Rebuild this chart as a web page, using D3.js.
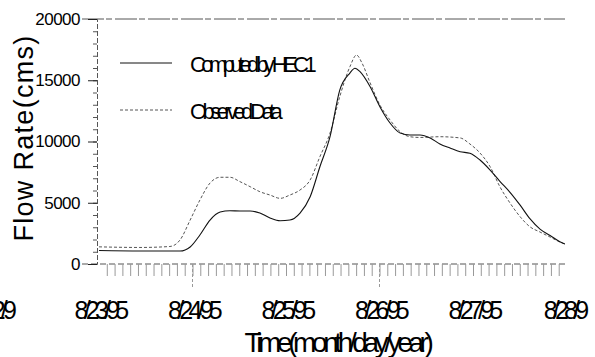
<!DOCTYPE html>
<html>
<head>
<meta charset="utf-8">
<script src="https://cdn.jsdelivr.net/npm/d3@7"></script>
<style>
  body { margin: 0; background: #fff; }
  text { font-family: "Liberation Sans", Arial, sans-serif; fill: #000; }
</style>
</head>
<body>
<div id="content"></div>
<script>
// Set up canvas
var width = 595, height = 357;

// hours after 8/23/95 00:00
var computedHours = [0, 10.5, 20.8, 23.4, 25.9, 28.5, 31.1, 33.6, 36.2, 38.8, 41.3, 43.9, 46.5, 49.0, 51.6, 54.2, 56.7, 59.3, 61.8, 64.4, 65.7, 67.0, 69.6, 72.1, 74.7, 77.3, 79.8, 82.4, 85.0, 87.5, 90.1, 92.7, 95.2, 97.8, 100.4, 102.9, 105.5, 108.1, 110.6, 113.2, 115.8, 118.3, 119.6];
var computedFlow = [1100, 1060, 1060, 1390, 2370, 3590, 4240, 4350, 4330, 4330, 4160, 3760, 3530, 3590, 4160, 5490, 7940, 10390, 14200, 15590, 15980, 15700, 14470, 12840, 11510, 10690, 10530, 10530, 10290, 9800, 9470, 9170, 9040, 8490, 7670, 6750, 5850, 4800, 3700, 2850, 2330, 1820, 1630];

var observedHours = [0, 10.5, 18.2, 20.8, 23.4, 25.9, 28.5, 31.1, 33.6, 36.2, 38.8, 41.3, 43.9, 46.5, 49.0, 51.6, 54.2, 56.7, 59.3, 61.8, 64.4, 66.1, 67.5, 69.6, 72.1, 74.7, 77.3, 79.8, 82.4, 87.5, 92.7, 95.2, 97.8, 100.4, 102.9, 105.5, 108.1, 110.6, 113.2, 115.8, 118.3, 119.6];
var observedFlow = [1400, 1350, 1430, 1960, 3590, 5220, 6610, 7080, 7080, 6720, 6310, 5900, 5630, 5360, 5630, 6040, 6860, 8760, 10690, 13660, 16100, 17060, 16410, 14780, 12980, 11760, 10800, 10390, 10330, 10390, 10290, 9800, 9060, 7940, 6310, 4980, 3860, 3040, 2610, 2200, 1800, 1630];

var dayTicks = [22, 23, 24, 25, 26, 27, 28];
var dayLabels = ["8/22/9", "8/23/95", "8/24/95", "8/25/95", "8/26/95", "8/27/95", "8/28/9"];
var longTickDays = [24, 26];
var yTicks = [0, 5000, 10000, 15000, 20000];
var yLabels = ["0", "5000", "10000", "15000", "20000"];
var legendNames = ["Computed by HEC1", "Observed Data"];

var svg = d3.select("#content")
    .append("svg")
    .attr("width", width)
    .attr("height", height);

function day(d) { return new Date(1995, 7, d); }
var start = day(23);
function at(h) { return new Date(start.getTime() + h * 3600e3); }

var xscale = d3.scaleTime()
    .domain([day(22), day(28)])
    .range([5.5, 566.5]);

var yscale = d3.scaleLinear()
    .domain([0, 20000])
    .range([264, 19]);

var axisX = 97;

// frame lines top and bottom
svg.append("line")
    .attr("x1", 82).attr("x2", 565)
    .attr("y1", yscale(20000)).attr("y2", yscale(20000))
    .attr("stroke", "#555").attr("stroke-dasharray", "22,2,6,3");
svg.append("line")
    .attr("x1", 82).attr("x2", 567)
    .attr("y1", yscale(0)).attr("y2", yscale(0))
    .attr("stroke", "#555").attr("stroke-dasharray", "6,3");

// x minor ticks every 2 hours
var x_minor = d3.axisBottom(xscale)
    .tickValues(d3.timeHour.every(2).range(at(2), day(28)))
    .tickSize(12)
    .tickFormat("");
var gxm = svg.append("g")
    .attr("transform", "translate(0," + yscale(0) + ")")
    .call(x_minor);
gxm.select(".domain").remove();
gxm.selectAll("line").attr("stroke", "#999");

// long day ticks
svg.selectAll(".longtick")
    .data(longTickDays)
    .enter().append("line")
    .attr("class", "longtick")
    .attr("x1", function(d) { return xscale(day(d)); })
    .attr("x2", function(d) { return xscale(day(d)); })
    .attr("y1", yscale(0)).attr("y2", yscale(0) + 23)
    .attr("stroke", "#999").attr("stroke-dasharray", "3,2");

// day labels
var x_axis = d3.axisBottom(xscale)
    .tickValues(dayTicks.map(day))
    .tickSize(0)
    .tickPadding(0)
    .tickFormat(function(d, i) { return dayLabels[i]; });
var gx = svg.append("g")
    .attr("transform", "translate(0,301)")
    .call(x_axis);
gx.select(".domain").remove();
gx.selectAll("text")
    .attr("dy", "0.71em")
    .style("font-size", "25px")
    .style("letter-spacing", "-4.8px")
    .attr("font-family", null);
gx.selectAll("text").filter(function(d, i) { return i == 0; })
    .attr("text-anchor", "end").attr("x", 6);
gx.selectAll("text").filter(function(d, i) { return i == dayLabels.length - 1; })
    .attr("x", -3);

// y axis
var y_minor = d3.axisLeft(yscale)
    .tickValues(d3.range(0, 20001, 1000))
    .tickSize(4)
    .tickFormat("");
var gym = svg.append("g")
    .attr("transform", "translate(" + axisX + ",0)")
    .call(y_minor);
gym.select(".domain").remove();
gym.selectAll("line").attr("stroke", "#555");

var y_axis = d3.axisLeft(yscale)
    .tickValues(yTicks)
    .tickSize(9)
    .tickPadding(8)
    .tickFormat(function(d, i) { return yLabels[i]; });
var gy = svg.append("g")
    .attr("transform", "translate(" + axisX + ",0)")
    .call(y_axis);
gy.select(".domain").attr("stroke", "#555").attr("stroke-dasharray", "5,2");
gy.selectAll("line").attr("stroke", "#222");
gy.selectAll("text")
    .style("font-size", "17px")
    .style("letter-spacing", "-0.5px")
    .attr("font-family", null);

// curves
var line = d3.line()
    .x(function(d) { return xscale(at(d[0])); })
    .y(function(d) { return yscale(d[1]); })
    .curve(d3.curveMonotoneX);

svg.append("path")
    .datum(d3.zip(observedHours, observedFlow))
    .attr("d", line)
    .attr("fill", "none")
    .attr("stroke", "#555")
    .attr("stroke-width", 1)
    .attr("stroke-dasharray", "3,2");

svg.append("path")
    .datum(d3.zip(computedHours, computedFlow))
    .attr("d", line)
    .attr("fill", "none")
    .attr("stroke", "#111")
    .attr("stroke-width", 1.1);

// legend
var leg = svg.selectAll(".leg")
    .data(legendNames)
    .enter().append("g")
    .attr("class", "leg")
    .attr("transform", function(d, i) { return "translate(0," + (63 + i * 47) + ")"; });
leg.append("line")
    .attr("x1", 120).attr("x2", 172)
    .attr("stroke", function(d, i) { return i == 0 ? "#111" : "#555"; })
    .attr("stroke-dasharray", function(d, i) { return i == 0 ? null : "3,2"; });
leg.append("text")
    .attr("x", 190).attr("y", 9)
    .style("font-size", "22px")
    .style("letter-spacing", "-4.6px")
    .text(function(d) { return d; });

// axis titles
svg.append("text")
    .attr("transform", "translate(33,138) rotate(-90)")
    .attr("text-anchor", "middle")
    .style("font-size", "27px")
    .style("letter-spacing", "1.3px")
    .text("Flow Rate(cms)");

svg.append("text")
    .attr("x", 337).attr("y", 352)
    .attr("text-anchor", "middle")
    .style("font-size", "28px")
    .style("letter-spacing", "-4.4px")
    .text("Time(month/day/year)");
</script>
</body>
</html>
